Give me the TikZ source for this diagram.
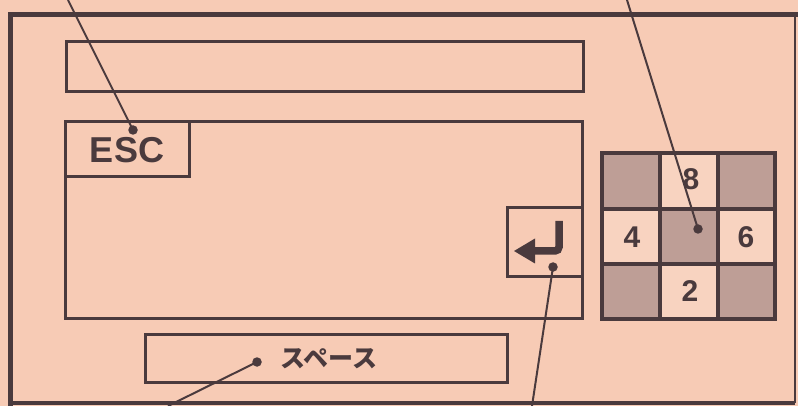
\documentclass[tikz,border=0pt]{standalone}
\usepackage{fontspec}
\setmainfont{Liberation Sans}
\newfontfamily\jpfont{Noto Sans CJK JP}
\definecolor{bgc}{HTML}{F7CBB5}
\definecolor{ink}{HTML}{4A3A3D}
\definecolor{darkcell}{HTML}{BE9E96}
\definecolor{lightcell}{HTML}{F8D3C0}
\begin{document}
\begin{tikzpicture}[x=1pt,y=-1pt,
  boxline/.style={draw=ink,line width=3pt},
  cellbox/.style={draw=ink,line width=3.2pt},
  leader/.style={draw=ink,line width=2pt},
  dotc/.style={circle,fill=ink,inner sep=0pt,minimum size=9.5pt},
  keylbl/.style={text=ink,font=\bfseries\fontsize{36}{36}\selectfont,inner sep=0pt},
  numlbl/.style={text=ink,font=\bfseries\fontsize{30}{30}\selectfont,inner sep=0pt},
  jplbl/.style={text=ink,font=\jpfont\bfseries\fontsize{25}{25}\selectfont,inner sep=0pt}]
\fill[bgc] (0,0) rectangle (798,406);
\useasboundingbox (0,0) rectangle (798,406);
% outer frame
\draw[ink,line width=5pt] (10.5,406) -- (10.5,14.5) -- (798,14.5);
\draw[ink,line width=2pt] (795,14.5) -- (795,403);
\draw[ink,line width=3.5pt] (10.5,403) -- (795,403);
% top bar
\node[boxline,minimum width=517pt,minimum height=50pt,inner sep=0pt,anchor=north west] (topbar) at (65,40) {};
% main panel
\draw[boxline] (65,122) rectangle (582,318);
\coordinate (panel) at (65,122);
% ESC box
\draw[boxline,fill=bgc] (65,122) rectangle (189,177);
\node[keylbl] (esc) at (127,150) {ESC};
% enter box
\draw[boxline] (582,208) -- (507,208) -- (507,276) -- (582,276);
\coordinate (enterbox) at (544,242);
\draw[ink,line width=7.5pt,rounded corners=4pt] (559,221) -- (559,251) -- (532,251);
\fill[ink] (514,251) -- (535,238.5) -- (535,263.5) -- cycle;
% keypad
\foreach \c/\r/\col in {0/0/darkcell,1/0/lightcell,2/0/darkcell,0/1/lightcell,1/1/darkcell,2/1/lightcell,0/2/darkcell,1/2/lightcell,2/2/darkcell}{
  \fill[\col] (602+\c*57.7,153+\r*55.3) rectangle ++(57.7,55.3);
}
\draw[cellbox] (602,153) rectangle (775,319);
\draw[cellbox] (660,153) -- (660,319) (718,153) -- (718,319) (602,209) -- (775,209) (602,264) -- (775,264);
\node[numlbl] (k8) at (691,179) {8};
\node[numlbl] (k4) at (632,237) {4};
\node[numlbl] (k6) at (746,237) {6};
\node[numlbl] (k2) at (690,291) {2};
% space bar
\draw[boxline] (145,334) rectangle (507,382);
\node[jplbl] (space) at (329,359) {スペース};
% leader dots
\node[dotc] (dEsc) at (133,130) {};
\node[dotc] (dPad) at (698,229) {};
\node[dotc] (dEnter) at (553,267) {};
\node[dotc] (dSpace) at (257,362) {};
\coordinate (tEsc) at (68,0);
\coordinate (tPad) at (627,0);
\coordinate (tEnter) at (532,406);
\coordinate (tSpace) at (168,406);
\draw[leader] (tEsc) -- (dEsc.center);
\draw[leader] (tPad) -- (dPad.center);
\draw[leader] (dEnter.center) -- (tEnter);
\draw[leader] (dSpace.center) -- (tSpace);
\end{tikzpicture}
\end{document}
